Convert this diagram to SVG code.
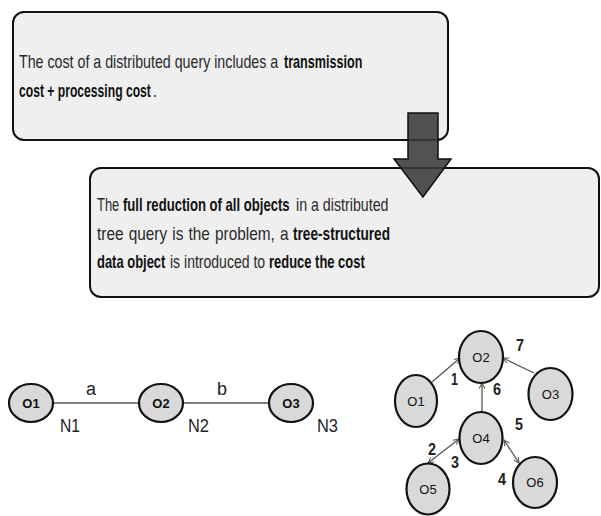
<svg xmlns="http://www.w3.org/2000/svg" width="601" height="516" viewBox="0 0 601 516">
<style>
.box{fill:#efefef;stroke:#111;stroke-width:2}
.t{font-family:"Liberation Sans",Arial,sans-serif;font-size:18px;fill:#2a2a2a}
.b{font-weight:bold;fill:#111}
.node{fill:#d9d9d9;stroke:#111;stroke-width:2.2}
.nl{font-family:"Liberation Sans",Arial,sans-serif;font-size:13px;fill:#111;text-anchor:middle}
.el{stroke:#555;stroke-width:1.3;fill:none}
.lab{font-family:"Liberation Sans",Arial,sans-serif;font-size:18px;fill:#222}
.num{font-family:"Liberation Sans",Arial,sans-serif;font-size:16px;font-weight:bold;fill:#222}
</style>
<defs>
<marker id="ah" viewBox="0 0 10 10" refX="9" refY="5" markerWidth="7" markerHeight="7" orient="auto-start-reverse" markerUnits="userSpaceOnUse">
<path d="M1,1 L9,5 L1,9" fill="none" stroke="#555" stroke-width="1.5"/>
</marker>
</defs>
<g id="box1">
<rect class="box" x="13" y="12" width="435" height="128" rx="11"/>
<text class="t" transform="translate(19,68) scale(0.79,1)">The cost of a distributed query includes a</text>
<text class="t b" transform="translate(284,68) scale(0.70,1)">transmission</text>
<text class="t b" transform="translate(19,97) scale(0.675,1)">cost + processing cost</text>
<text class="t" transform="translate(153,97) scale(0.8,1)">.</text>
</g>
<g id="box2">
<rect class="box" x="90" y="168" width="509" height="129" rx="11"/>
<text class="t" transform="translate(97,211) scale(0.72,1)">The</text>
<text class="t b" transform="translate(123,211) scale(0.728,1)">full reduction of all objects</text>
<text class="t" transform="translate(296,211) scale(0.79,1)">in a distributed</text>
<text class="t" transform="translate(97,240) scale(0.855,1)" word-spacing="1">tree query is the problem, a</text>
<text class="t b" transform="translate(293,240) scale(0.758,1)">tree-structured</text>
<text class="t b" transform="translate(97,268) scale(0.72,1)">data object</text>
<text class="t" transform="translate(170,268) scale(0.78,1)">is introduced to</text>
<text class="t b" transform="translate(269,268) scale(0.72,1)">reduce the cost</text>
</g>
<g id="arrow">
<path d="M408,113 H438 V159 H451 L423,197 L394,159 H408 Z" fill="#3a3a3a" fill-opacity="0.88" stroke="#111" stroke-width="1.5"/>
</g>
<g id="connectors">
<line class="el" x1="53" y1="403" x2="139" y2="403"/>
<line class="el" x1="183" y1="403" x2="269" y2="403"/>
<line class="el" x1="432" y1="382" x2="460" y2="358" marker-end="url(#ah)"/>
<line class="el" x1="534" y1="373" x2="503" y2="358" marker-end="url(#ah)"/>
<line class="el" x1="482" y1="412" x2="482" y2="383" marker-end="url(#ah)"/>
<line class="el" x1="428" y1="463" x2="459" y2="439" marker-start="url(#ah)" marker-end="url(#ah)"/>
<line class="el" x1="504" y1="440" x2="519" y2="463" marker-start="url(#ah)" marker-end="url(#ah)"/>
<text class="lab" x="86" y="395" textLength="10" lengthAdjust="spacingAndGlyphs">a</text>
<text class="lab" x="217" y="395" textLength="10" lengthAdjust="spacingAndGlyphs">b</text>
<text class="lab" x="60" y="432" textLength="20" lengthAdjust="spacingAndGlyphs">N1</text>
<text class="lab" x="188" y="432" textLength="21" lengthAdjust="spacingAndGlyphs">N2</text>
<text class="lab" x="317" y="432" textLength="21" lengthAdjust="spacingAndGlyphs">N3</text>
<text class="num" x="451" y="385" textLength="7" lengthAdjust="spacingAndGlyphs">1</text>
<text class="num" x="516" y="351" textLength="8" lengthAdjust="spacingAndGlyphs">7</text>
<text class="num" x="493" y="395" textLength="8" lengthAdjust="spacingAndGlyphs">6</text>
<text class="num" x="515" y="430" textLength="8" lengthAdjust="spacingAndGlyphs">5</text>
<text class="num" x="428" y="455" textLength="8" lengthAdjust="spacingAndGlyphs">2</text>
<text class="num" x="451" y="468" textLength="8" lengthAdjust="spacingAndGlyphs">3</text>
<text class="num" x="498" y="485" textLength="8" lengthAdjust="spacingAndGlyphs">4</text>
</g>
<g id="n1"><ellipse class="node" cx="31" cy="403" rx="22" ry="19"/><text class="nl" x="31" y="408" font-weight="bold" font-size="12">O1</text></g>
<g id="n2"><ellipse class="node" cx="161" cy="403" rx="22" ry="19"/><text class="nl" x="161" y="408" font-weight="bold" font-size="12">O2</text></g>
<g id="n3"><ellipse class="node" cx="291" cy="403" rx="22" ry="19"/><text class="nl" x="291" y="408" font-weight="bold" font-size="12">O3</text></g>
<g id="t2"><ellipse class="node" cx="481" cy="357" rx="22" ry="26"/><text class="nl" x="481" y="362">O2</text></g>
<g id="t1"><ellipse class="node" cx="416" cy="401" rx="21" ry="26"/><text class="nl" x="416" y="406">O1</text></g>
<g id="t3"><ellipse class="node" cx="550.5" cy="394" rx="22" ry="26"/><text class="nl" x="550.5" y="399">O3</text></g>
<g id="t4"><ellipse class="node" cx="481" cy="438" rx="21.5" ry="26"/><text class="nl" x="481" y="443">O4</text></g>
<g id="t5"><ellipse class="node" cx="428" cy="489" rx="21.5" ry="25.5"/><text class="nl" x="428" y="494">O5</text></g>
<g id="t6"><ellipse class="node" cx="535" cy="482.5" rx="22" ry="25.5"/><text class="nl" x="535" y="487">O6</text></g>
</svg>
